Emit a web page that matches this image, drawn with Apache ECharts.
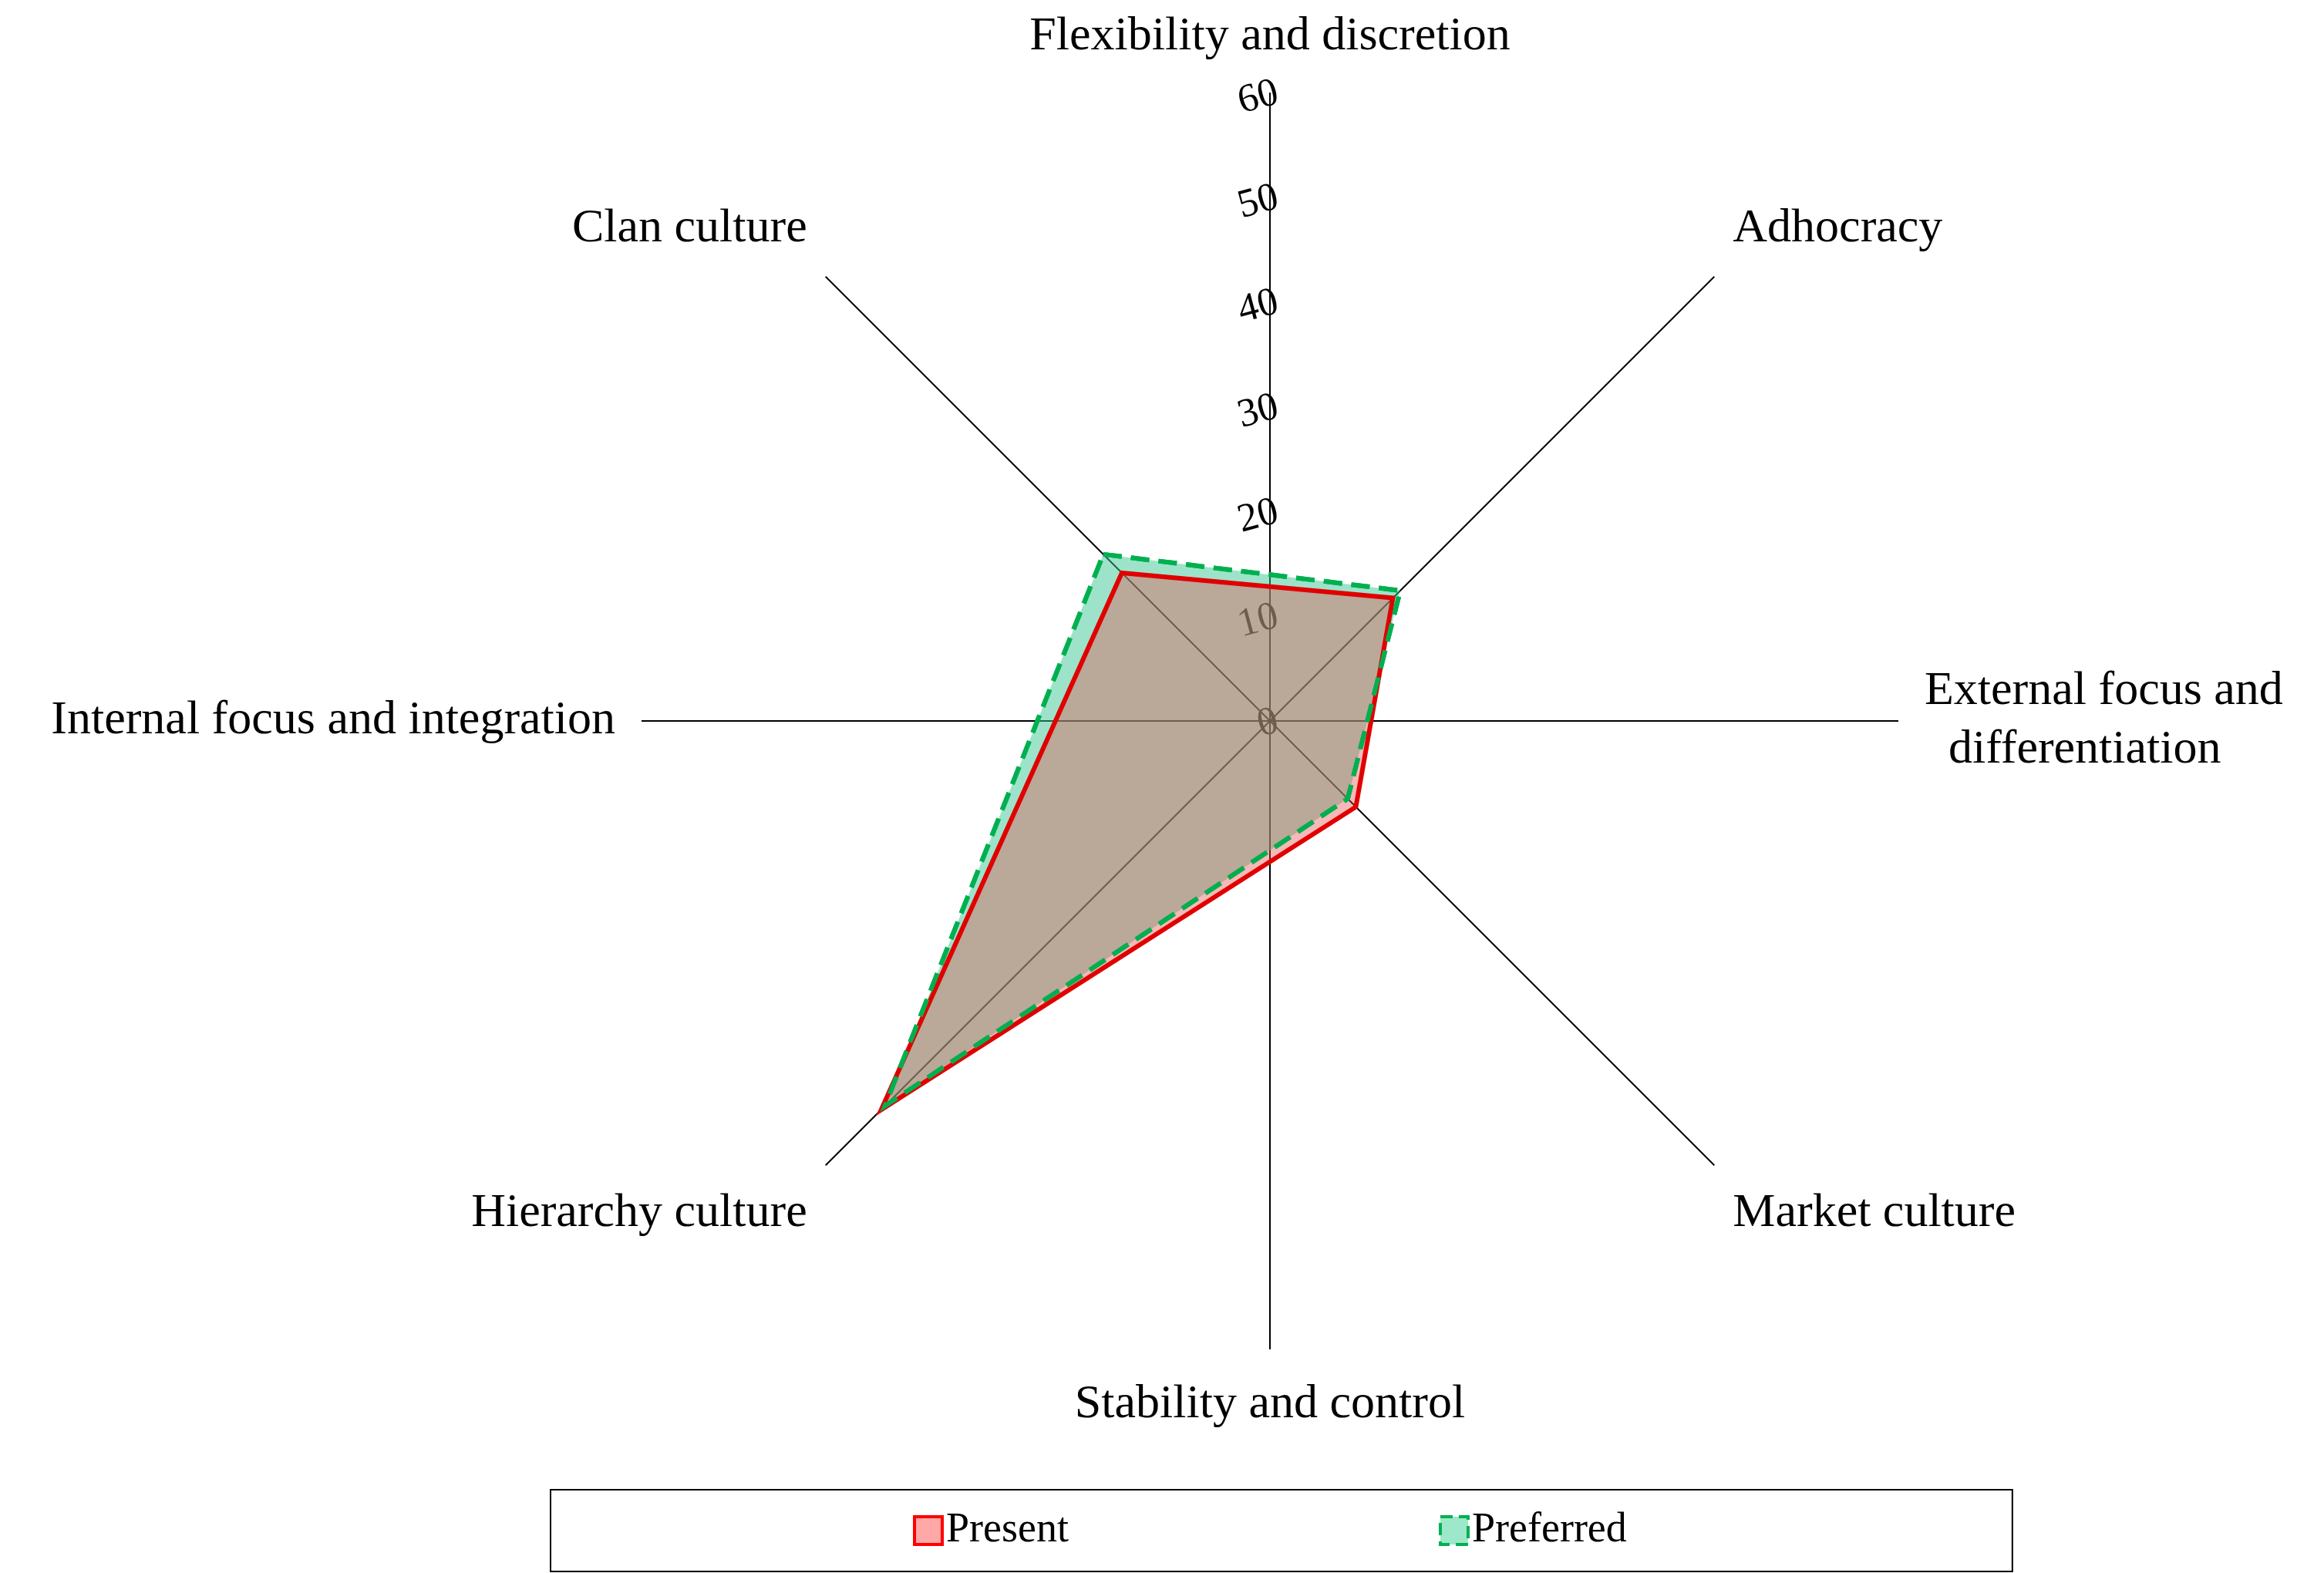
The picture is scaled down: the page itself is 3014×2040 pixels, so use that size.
<!DOCTYPE html>
<html><head><meta charset="utf-8">
<script src="https://cdn.jsdelivr.net/npm/echarts@6/dist/echarts.min.js"></script>
<style>html,body{margin:0;background:#fff}#c{width:3014px;height:2040px}</style>
</head><body><div id="c"></div>
<script>
const axisNames = {0:'Flexibility and discretion',45:'Adhocracy',90:'External focus and\n  differentiation',135:'Market culture',180:'Stability and control',225:'Hierarchy culture',270:'Internal focus and integration',315:'Clan culture'};
const dataAngles = [315, 45, 135, 225]; // Clan, Adhocracy, Market, Hierarchy
const present = [20, 16.6, 11.6, 52.5];
const preferred = [22.5, 17.6, 10.5, 52];
const radiusTicks = [0,10,20,30,40,50,60];

const chart = echarts.init(document.getElementById('c'));
function poly(vals, style){
  return function(params, api){
    if (params.dataIndex !== 0) return null;
    const pts = vals.map((v,i)=>api.coord([v, dataAngles[i]]));
    return {type:'polygon', shape:{points:pts}, style:style, z2:10};
  };
}
const font = 'Liberation Serif';
chart.setOption({
  backgroundColor:'#fff',
  textStyle:{fontFamily:font},
  polar:{center:['1647px','935px'], radius:815},
  angleAxis:{type:'value', min:0, max:360, interval:45, startAngle:90, clockwise:true,
    axisLine:{show:false}, axisTick:{show:false},
    splitLine:{show:true, lineStyle:{color:'#000', width:2}},
    axisLabel:{show:true, fontFamily:font, fontSize:62, color:'#000', margin:34, lineHeight:76,
      formatter:v=> v===360 ? '' : (axisNames[v]||'')}},
  radiusAxis:{type:'value', min:0, max:60, interval:10,
    axisLine:{show:false}, axisTick:{show:false}, splitLine:{show:false},
    axisLabel:{fontFamily:font, fontSize:52, color:'#000', rotate:15, margin:-10, showMinLabel:true}},
  legend:{bottom:2, left:714, orient:'horizontal', itemGap:480, itemWidth:36, itemHeight:36,
    borderColor:'#000', borderWidth:2, padding:[26,500,26,470],
    textStyle:{fontFamily:font, fontSize:54, color:'#000'},
    data:[{name:'Present', icon:'rect', itemStyle:{color:'rgba(255,110,110,0.6)', borderColor:'#ff0000', borderWidth:4}},
          {name:'Preferred', icon:'rect', itemStyle:{color:'rgba(60,210,150,0.5)', borderColor:'#00b050', borderWidth:4, borderType:'dashed'}}]},
  series:[
    {name:'Preferred', type:'custom', coordinateSystem:'polar',
     data: preferred.map((v,i)=>[v,dataAngles[i]]),
     itemStyle:{color:'rgba(60,210,150,0.5)'},
     renderItem: poly(preferred, {fill:'rgba(60,200,150,0.5)', stroke:'#00b050', lineWidth:6, lineDash:[24,12]})},
    {name:'Present', type:'custom', coordinateSystem:'polar',
     data: present.map((v,i)=>[v,dataAngles[i]]),
     itemStyle:{color:'rgba(255,110,110,0.6)'},
     renderItem: poly(present, {fill:'rgba(230,80,80,0.4)', stroke:'#e00000', lineWidth:6})},
    {name:'PreferredOutline', type:'custom', coordinateSystem:'polar',
     data: preferred.map((v,i)=>[v,dataAngles[i]]),
     renderItem: poly(preferred, {fill:null, stroke:'#00b050', lineWidth:6, lineDash:[24,12]})}
  ]
});
</script></body></html>
